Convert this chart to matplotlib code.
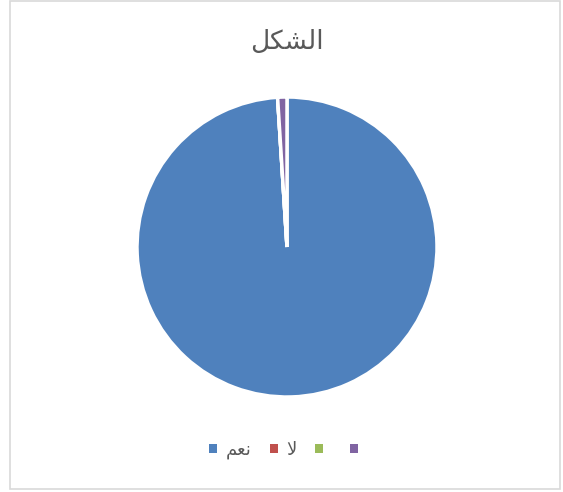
import matplotlib
matplotlib.use("Agg")
import matplotlib.pyplot as plt
from matplotlib.patches import Rectangle, Patch

# data
categories = ["نعم", "لا", "", ""]
values = [99, 0, 0, 1]
colors = ["#4F81BD", "#C0504D", "#9BBB59", "#8064A2"]
title = "الشكل"

# presentation forms: isolated, final, initial, medial (None = does not join forward)
FORMS = {
    "ا": ("\uFE8D", "\uFE8E", None, None),
    "ل": ("\uFEDD", "\uFEDE", "\uFEDF", "\uFEE0"),
    "ش": ("\uFEB5", "\uFEB6", "\uFEB7", "\uFEB8"),
    "ك": ("\uFED9", "\uFEDA", "\uFEDB", "\uFEDC"),
    "ن": ("\uFEE5", "\uFEE6", "\uFEE7", "\uFEE8"),
    "ع": ("\uFEC9", "\uFECA", "\uFECB", "\uFECC"),
    "م": ("\uFEE1", "\uFEE2", "\uFEE3", "\uFEE4"),
    "لا": ("\uFEFB", "\uFEFC", None, None),
}


def shape(text):
    # matplotlib has no arabic shaping, so pick glyph forms by hand and reverse
    letters = []
    i = 0
    while i < len(text):
        if text[i:i + 2] == "لا":
            letters.append("لا")
            i += 2
        else:
            letters.append(text[i])
            i += 1
    out = []
    for k, ch in enumerate(letters):
        if ch not in FORMS:
            out.append(ch)
            continue
        prev_joins = k > 0 and letters[k - 1] in FORMS and FORMS[letters[k - 1]][2] is not None
        next_joins = (k + 1 < len(letters) and letters[k + 1] in FORMS
                      and FORMS[ch][2] is not None)
        iso, fin, ini, med = FORMS[ch]
        if prev_joins and next_joins:
            out.append(med)
        elif prev_joins:
            out.append(fin)
        elif next_joins:
            out.append(ini)
        else:
            out.append(iso)
    return "".join(reversed(out))


fig = plt.figure(figsize=(5.63, 4.92), dpi=100)
W, H = 563, 492

# chart frame
fig.patches.append(Rectangle((10 / W, 3 / H), 550 / W, 488 / H, transform=fig.transFigure,
                             facecolor="none", edgecolor="#D9D9D9", linewidth=1.2))

cx, cy, r = 287, 247, 150
ax = fig.add_axes([(cx - r) / W, (H - cy - r) / H, 2 * r / W, 2 * r / H])
wedges, _ = ax.pie(values, colors=colors, startangle=90, counterclock=False,
                   wedgeprops=dict(edgecolor="white", linewidth=2.5))
ax.set_xlim(-1, 1)
ax.set_ylim(-1, 1)
ax.set_aspect("equal")

fig.text(cx / W, 1 - 42 / H, shape(title), ha="center", va="center",
         fontsize=19, color="#595959", family="DejaVu Sans")

# plain squares for the legend, without the white wedge outline
handles = [Patch(facecolor=c, edgecolor="none") for c in colors]
leg = fig.legend(handles, [shape(c) for c in categories], loc="center",
                 bbox_to_anchor=(288 / W, 1 - 450 / H), ncol=4, frameon=False,
                 handlelength=0.45, handleheight=0.45, handletextpad=0.5,
                 columnspacing=1.0, fontsize=13)
for t in leg.get_texts():
    t.set_color("#595959")

fig.savefig("out.png", dpi=100)
